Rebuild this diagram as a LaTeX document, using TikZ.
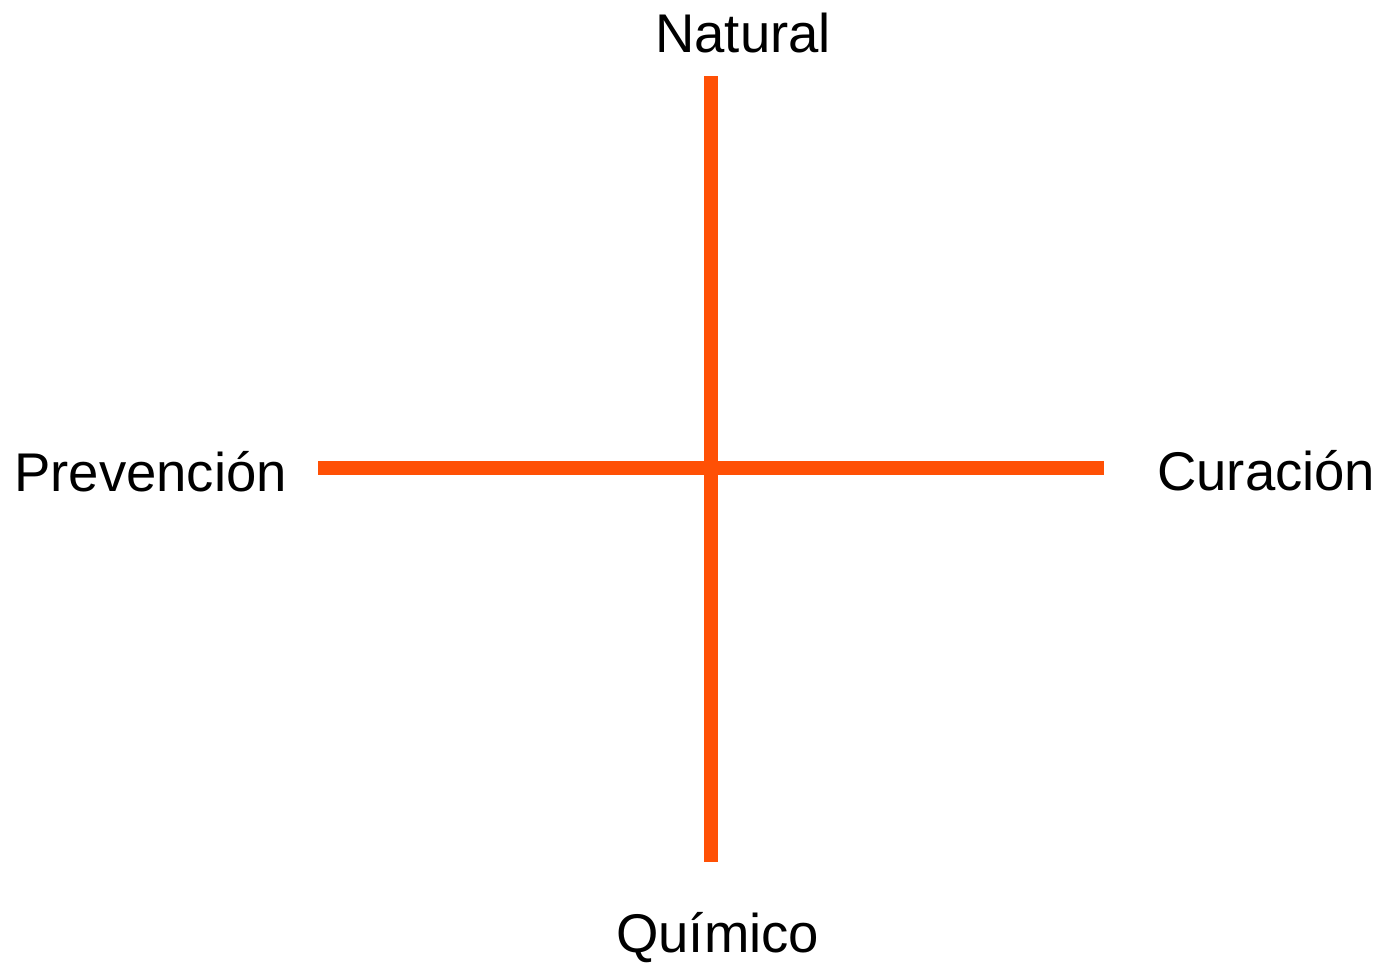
\documentclass[tikz,border=0pt]{standalone}
\usepackage{fontspec}
\setmainfont{Liberation Sans}
\definecolor{axis}{HTML}{FF5005}
\begin{document}
\begin{tikzpicture}[x=1pt,y=-1pt,
  axisline/.style={draw=axis,line width=14pt},
  lbl/.style={font=\fontsize{54.5}{60}\selectfont,inner sep=0pt,anchor=base west,text=black}]
\useasboundingbox (0,0) rectangle (1381,964);
\coordinate (top) at (711,76);
\coordinate (bot) at (711,862);
\coordinate (left) at (318,468);
\coordinate (right) at (1104,468);
\draw[axisline] (top) -- (bot);
\draw[axisline] (left) -- (right);
\node[lbl] (nat) at (655,52) {Natural};
\node[lbl] (qui) at (616,952) {Químico};
\node[lbl] (pre) at (14,491) {Prevención};
\node[lbl] (cur) at (1157,490) {Curación};
\end{tikzpicture}
\end{document}
